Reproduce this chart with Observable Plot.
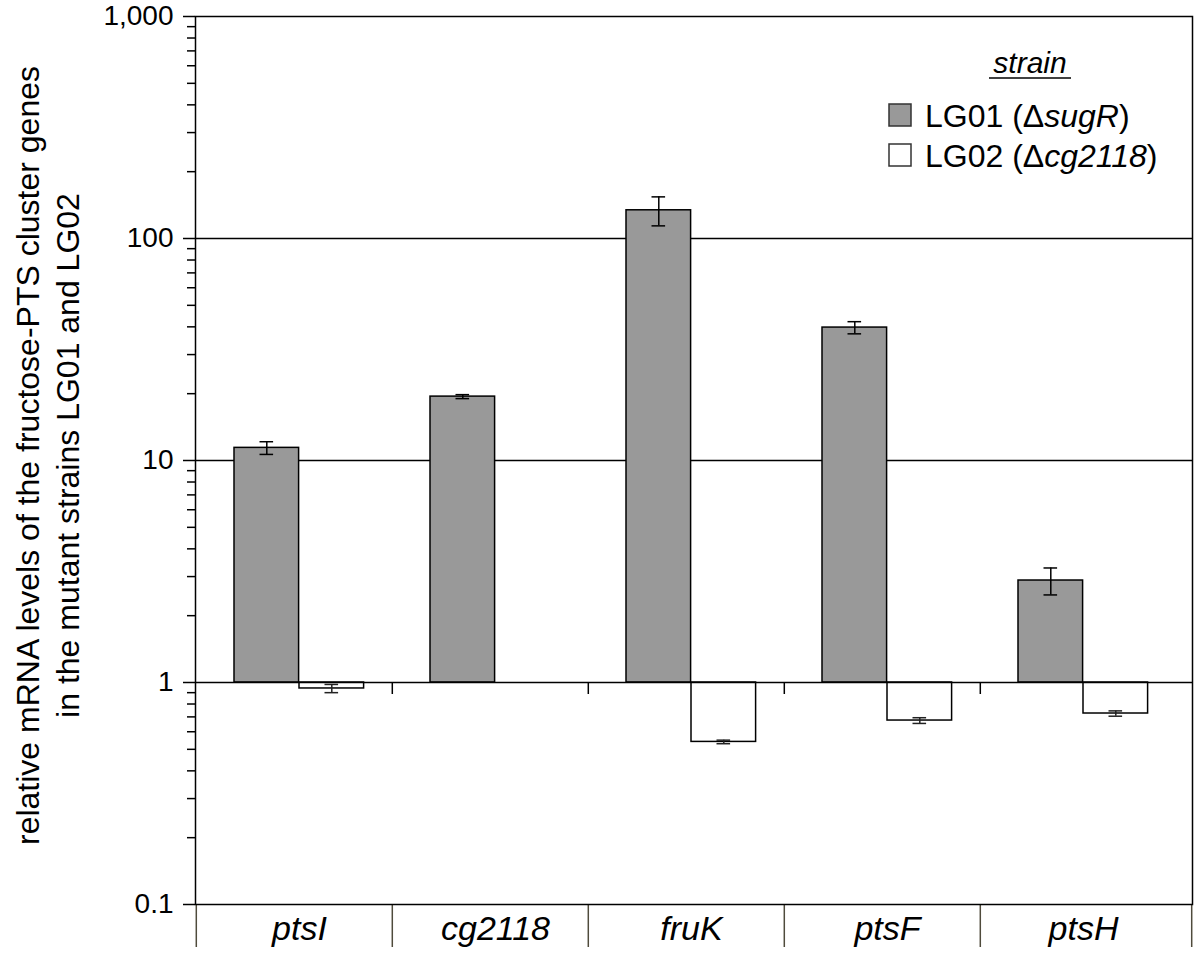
<!DOCTYPE html>
<html>
<head>
<meta charset="utf-8">
<script src="https://cdn.jsdelivr.net/npm/d3@7"></script>
<script src="https://cdn.jsdelivr.net/npm/@observablehq/plot@0.6"></script>
<style>
  html, body { margin: 0; padding: 0; background: #fff; }
  #chart { width: 1200px; height: 957px; }
</style>
</head>
<body>
<div id="chart"></div>
<script>
const genes = ["ptsI", "cg2118", "fruK", "ptsF", "ptsH"];
const lg01 = [11.4, 19.4, 134, 39.7, 2.88];
const lg01Err = [0.75, 0.4, 20, 2.5, 0.4];
const lg02 = [0.94, null, 0.54, 0.674, 0.725];
const lg02Err = [0.04, null, 0.01, 0.02, 0.02];
const yTicks = [0.1, 1, 10, 100, 1000];
const yTickLabels = ["0.1", "1", "10", "100", "1,000"];
const strainNames = ["LG01", "LG02"];
const strainDeletions = ["sugR", "cg2118"];
const strainColors = ["#999999", "#ffffff"];
const legendTitle = "strain";
const yLabel = "relative mRNA levels of the fructose-PTS cluster genes\nin the mutant strains LG01 and LG02";

const rows01 = genes.map((g, i) => ({gene: g, value: lg01[i], lo: lg01[i] - lg01Err[i], hi: lg01[i] + lg01Err[i]}));
const rows02 = genes
  .map((g, i) => ({gene: g, value: lg02[i], lo: lg02[i] == null ? null : lg02[i] - lg02Err[i], hi: lg02[i] == null ? null : lg02[i] + lg02Err[i]}))
  .filter(d => d.value != null);

const minorTicks = [];
for (const dec of [0.1, 1, 10, 100]) for (let m = 2; m <= 9; m++) minorTicks.push(+(dec * m).toPrecision(3));

const W = 1200, H = 957, mL = 195, mR = 8, mT = 16, mB = 53;
const xStart = 195, xEnd = 1177;
const bw = (xEnd - xStart) / genes.length;
const font = "Liberation Sans, Arial, sans-serif";
const plotW = W - mL - mR;

const chart = Plot.plot({
  width: W,
  height: H,
  marginLeft: mL,
  marginRight: mR,
  marginTop: mT,
  marginBottom: mB,
  style: {fontFamily: font, color: "#000", background: "#fff"},
  x: {type: "band", domain: genes, range: [xStart, xEnd], padding: 0},
  y: {type: "log", domain: [0.1, 1000]},
  marks: [
    Plot.ruleY([10, 100], {stroke: "#000", strokeWidth: 1.5}),
    Plot.barY(rows01, {x: "gene", y1: 1, y2: "value", fill: strainColors[0], stroke: "#000", strokeWidth: 1.5, insetLeft: 38, insetRight: bw - 103}),
    Plot.barY(rows02, {x: "gene", y1: 1, y2: "value", fill: strainColors[1], stroke: "#000", strokeWidth: 1.5, insetLeft: 103, insetRight: bw - 168}),
    Plot.ruleY([1], {stroke: "#000", strokeWidth: 1.5}),
    Plot.ruleX(rows01, {x: "gene", y1: "lo", y2: "hi", dx: 70.5 - bw / 2, stroke: "#000", strokeWidth: 1.5}),
    Plot.tickY(rows01, {x: "gene", y: "lo", insetLeft: 63.5, insetRight: bw - 77.5, stroke: "#000", strokeWidth: 1.5}),
    Plot.tickY(rows01, {x: "gene", y: "hi", insetLeft: 63.5, insetRight: bw - 77.5, stroke: "#000", strokeWidth: 1.5}),
    Plot.ruleX(rows02, {x: "gene", y1: "lo", y2: "hi", dx: 135.5 - bw / 2, stroke: "#222", strokeWidth: 1.5}),
    Plot.tickY(rows02, {x: "gene", y: "lo", insetLeft: 128.5, insetRight: bw - 142.5, stroke: "#222", strokeWidth: 1.5}),
    Plot.tickY(rows02, {x: "gene", y: "hi", insetLeft: 128.5, insetRight: bw - 142.5, stroke: "#222", strokeWidth: 1.5}),
    // category boundary ticks on the baseline at 1
    Plot.ruleX(genes.slice(1), {x: d => d, y1: 1, y2: 1, dx: -bw / 2, insetTop: 0, insetBottom: -12, stroke: "#000", strokeWidth: 1.5}),
    // category dividers below the plot
    Plot.ruleX(genes, {x: d => d, dx: -bw / 2, insetTop: H - mT - mB, insetBottom: -43, stroke: "#4f4b3c", strokeWidth: 1.5}),
    Plot.ruleX([genes[genes.length - 1]], {x: d => d, dx: (W - mR) - (xEnd - bw / 2), insetTop: H - mT - mB, insetBottom: -43, stroke: "#4f4b3c", strokeWidth: 1.5}),
    Plot.frame({stroke: "#000", strokeWidth: 1.5}),
    // minor ticks on the log axis
    Plot.tickY(minorTicks, {y: d => d, insetLeft: -8, insetRight: plotW, stroke: "#000", strokeWidth: 1.5}),
    Plot.axisY({ticks: yTicks, tickSize: 12, tickPadding: 10, tickFormat: d => yTickLabels[yTicks.indexOf(d)], fontSize: 28, label: null, strokeWidth: 1.5}),
    Plot.axisX({tickSize: 0, tickPadding: 11, dx: 5, fontSize: 34, fontStyle: "italic", label: null}),
    Plot.text([yLabel], {text: d => d, frameAnchor: "left", rotate: -90, dx: -149, dy: -5, fontSize: 32, lineHeight: 1.25, textAnchor: "middle", fill: "#000"})
  ]
});
document.getElementById("chart").appendChild(chart);

// legend (inside the plot, top right)
const svg = d3.select(chart.tagName.toLowerCase() === "svg" ? chart : chart.querySelector("svg"));
const lg = svg.append("g").attr("font-family", font).attr("fill", "#000").attr("text-anchor", "start");
lg.append("text").attr("x", 1030).attr("y", 73).attr("text-anchor", "middle").attr("font-size", 30).attr("font-style", "italic").text(legendTitle);
lg.append("line").attr("x1", 989).attr("x2", 1071).attr("y1", 78).attr("y2", 78).attr("stroke", "#000").attr("stroke-width", 1.5);
strainNames.forEach((name, i) => {
  const yb = 127 + i * 40;
  lg.append("rect").attr("x", 889).attr("y", yb - 23).attr("width", 22).attr("height", 22)
    .attr("fill", strainColors[i]).attr("stroke", "#333").attr("stroke-width", 1.5);
  const t = lg.append("text").attr("x", 925).attr("y", yb).attr("font-size", 32).attr("text-anchor", "start");
  t.append("tspan").text(name + " (\u0394");
  t.append("tspan").attr("font-style", "italic").text(strainDeletions[i]);
  t.append("tspan").text(")");
});
</script>
</body>
</html>
